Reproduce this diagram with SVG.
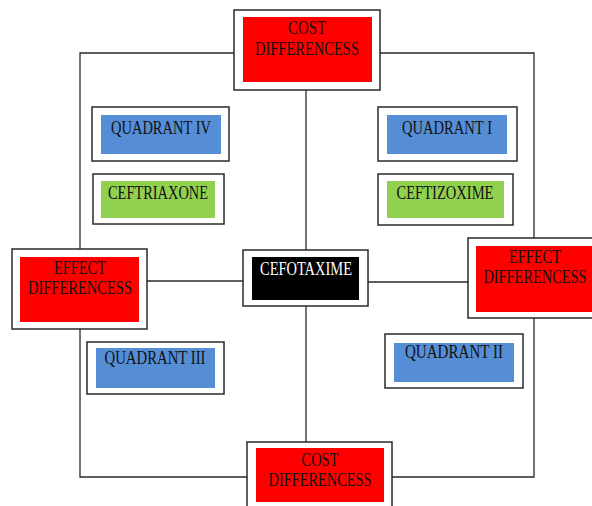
<svg xmlns="http://www.w3.org/2000/svg" width="592" height="506" viewBox="0 0 592 506">
<style>
.frame{fill:#fff;stroke:#2a2a2a;stroke-width:1.5}
.red{fill:#ff0000}
.blue{fill:#558ed5}
.green{fill:#92d050}
.black{fill:#000}
.t{font-family:"Liberation Serif","Times New Roman",serif;font-size:18px;fill:#111;text-anchor:middle}
.w{fill:#fff}
.conn{fill:none;stroke:#2a2a2a;stroke-width:1.3}
</style>
<rect width="592" height="506" fill="#fff"/>
<g id="connectors">
<polyline class="conn" points="234,53 80,53 80,249"/>
<polyline class="conn" points="80,329 80,477 247,477"/>
<polyline class="conn" points="380,53 534,53 534,238"/>
<polyline class="conn" points="534,318 534,477 392,477"/>
<line class="conn" x1="306" y1="90" x2="306" y2="250"/>
<line class="conn" x1="306" y1="306" x2="306" y2="442"/>
<line class="conn" x1="147" y1="281" x2="243" y2="281"/>
<line class="conn" x1="368" y1="282" x2="468" y2="282"/>
</g>
<g id="cost-top">
<rect class="frame" x="234" y="10" width="146" height="80"/>
<rect class="red" x="243" y="17" width="129" height="65"/>
<text class="t" x="307" y="34" textLength="38" lengthAdjust="spacingAndGlyphs">COST</text>
<text class="t" x="307" y="55" textLength="104" lengthAdjust="spacingAndGlyphs">DIFFERENCESS</text>
</g>
<g id="effect-left">
<rect class="frame" x="12" y="249" width="135" height="80"/>
<rect class="red" x="20" y="257" width="119" height="65"/>
<text class="t" x="80" y="274" textLength="52" lengthAdjust="spacingAndGlyphs">EFFECT</text>
<text class="t" x="80" y="294" textLength="104" lengthAdjust="spacingAndGlyphs">DIFFERENCESS</text>
</g>
<g id="effect-right">
<rect class="frame" x="468" y="238" width="140" height="80"/>
<rect class="red" x="476" y="246" width="130" height="66"/>
<text class="t" x="535" y="263" textLength="52" lengthAdjust="spacingAndGlyphs">EFFECT</text>
<text class="t" transform="translate(535,283) scale(0.8,1)" x="0" y="0">DIFFERENCESS</text>
</g>
<g id="cost-bottom">
<rect class="frame" x="247" y="442" width="145" height="80"/>
<rect class="red" x="256" y="448" width="128" height="54"/>
<text class="t" x="320" y="466" textLength="37" lengthAdjust="spacingAndGlyphs">COST</text>
<text class="t" x="320" y="486" textLength="103" lengthAdjust="spacingAndGlyphs">DIFFERENCESS</text>
</g>
<g id="cefotaxime">
<rect class="frame" x="243" y="250" width="125" height="56"/>
<rect class="black" x="252" y="257" width="107" height="43"/>
<text class="t w" x="306" y="275" textLength="92" lengthAdjust="spacingAndGlyphs">CEFOTAXIME</text>
</g>
<g id="quadrant-iv">
<rect class="frame" x="92" y="107" width="137" height="54"/>
<rect class="blue" x="101" y="115" width="120" height="39"/>
<text class="t" x="161" y="134" textLength="100" lengthAdjust="spacingAndGlyphs">QUADRANT IV</text>
</g>
<g id="ceftriaxone">
<rect class="frame" x="93" y="174" width="131" height="50"/>
<rect class="green" x="101" y="181" width="114" height="37"/>
<text class="t" x="158" y="199" textLength="100" lengthAdjust="spacingAndGlyphs">CEFTRIAXONE</text>
</g>
<g id="quadrant-i">
<rect class="frame" x="378" y="107" width="139" height="54"/>
<rect class="blue" x="387" y="115" width="120" height="39"/>
<text class="t" x="447" y="134" textLength="90" lengthAdjust="spacingAndGlyphs">QUADRANT I</text>
</g>
<g id="ceftizoxime">
<rect class="frame" x="378" y="174" width="135" height="51"/>
<rect class="green" x="387" y="181" width="117" height="37"/>
<text class="t" x="445" y="199" textLength="97" lengthAdjust="spacingAndGlyphs">CEFTIZOXIME</text>
</g>
<g id="quadrant-iii">
<rect class="frame" x="87" y="342" width="137" height="52"/>
<rect class="blue" x="96" y="348" width="119" height="40"/>
<text class="t" x="155" y="364" textLength="101" lengthAdjust="spacingAndGlyphs">QUADRANT III</text>
</g>
<g id="quadrant-ii">
<rect class="frame" x="385" y="334" width="138" height="54"/>
<rect class="blue" x="394" y="343" width="120" height="39"/>
<text class="t" x="454" y="358" textLength="98" lengthAdjust="spacingAndGlyphs">QUADRANT II</text>
</g>
</svg>
